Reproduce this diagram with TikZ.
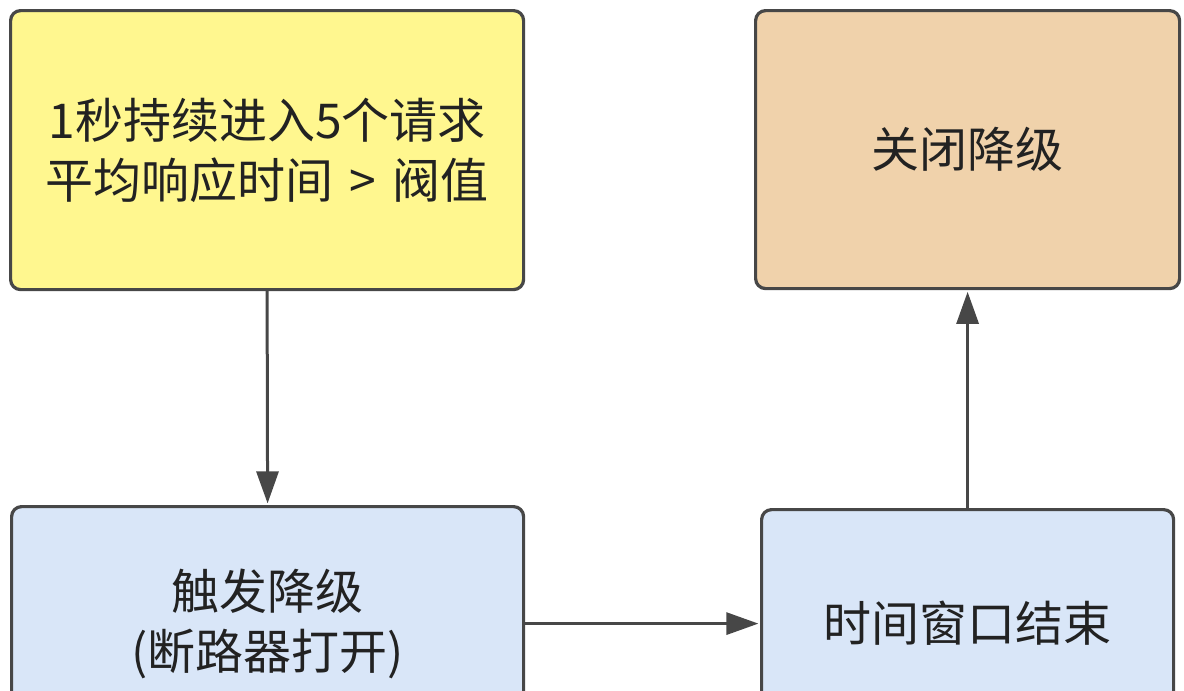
\documentclass[tikz,border=0pt]{standalone}
\usepackage{fontspec}
\setmainfont{Noto Sans CJK SC}
\usetikzlibrary{arrows.meta}
\definecolor{yel}{HTML}{FFF78F}
\definecolor{org}{HTML}{F0D2AB}
\definecolor{blu}{HTML}{D9E6F8}
\definecolor{edge}{HTML}{474747}
\definecolor{txt}{HTML}{222222}
\tikzset{
  box/.style={draw=edge, line width=1.6pt, rounded corners=5pt, anchor=north west,
    text=txt, font=\fontsize{24pt}{30pt}\selectfont, align=center, inner sep=0pt},
  conn/.style={draw=edge, line width=1.5pt, -{Triangle[length=16pt,width=11pt]}, shorten >=0.8pt}
}
\begin{document}
\begin{tikzpicture}[x=0.5pt,y=-0.5pt]
\useasboundingbox (0,0) rectangle (1184,691);
\clip (0,0) rectangle (1184,691);
\node[box, fill=yel, minimum width=256.5pt, minimum height=139.5pt] (cond) at (9,9) {1秒持续进入5个请求\\平均响应时间\hspace{0.33em}>\hspace{0.33em}阀值};
\node[box, fill=org, minimum width=212pt, minimum height=139pt] (close) at (754,9) {关闭降级};
\node[box, fill=blu, minimum width=256pt, minimum height=117pt] (trig) at (10,505) {触发降级\\(断路器打开)};
\node[box, fill=blu, minimum width=206pt, minimum height=114pt] (win) at (760,508) {时间窗口结束};
\draw[conn] (cond.south) -- (trig.north);
\draw[conn] (trig.east) -- (win.west);
\draw[conn] (win.north) -- (close.south);
\end{tikzpicture}
\end{document}
